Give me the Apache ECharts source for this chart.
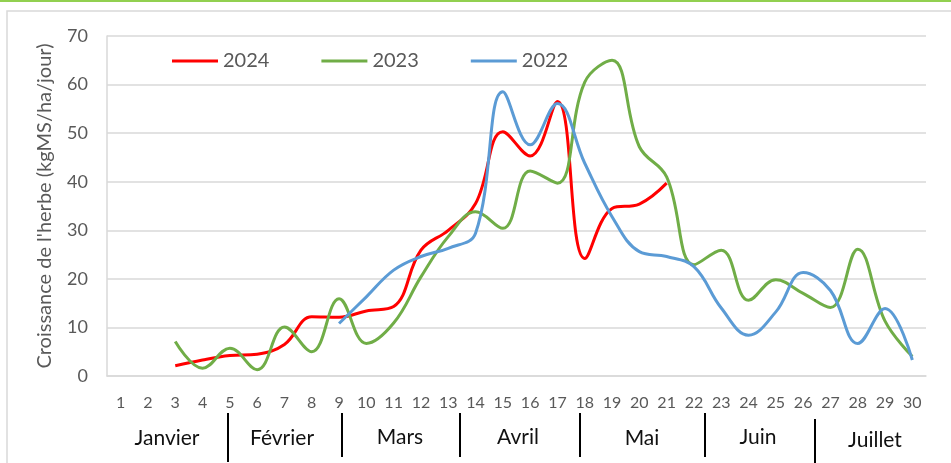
<!DOCTYPE html>
<html>
<head>
<meta charset="utf-8">
<script src="https://cdn.jsdelivr.net/npm/echarts@6/dist/echarts.min.js"></script>
<style>
html,body{margin:0;padding:0;background:#fff;}
#chart{width:951px;height:463px;}
</style>
</head>
<body>
<div id="chart"></div>
<script>
// ---- data ----
var categories = ['1','2','3','4','5','6','7','8','9','10','11','12','13','14','15','16','17','18','19','20','21','22','23','24','25','26','27','28','29','30'];
var seriesNames = ['2024', '2023', '2022'];
var values2024 = [null,null,2.1,3.3,4.2,4.5,6.5,12.2,12.1,13.4,14.3,25.9,30.0,35.5,50.3,45.3,56.5,24.2,34.5,35.4,39.7,null,null,null,null,null,null,null,null,null];
var values2023 = [null,null,7.1,1.6,5.7,1.3,10.1,5.0,15.9,6.7,10.9,20.4,28.7,33.8,30.4,42.2,39.7,60.5,65.0,47.2,41.0,22.9,25.9,15.6,19.8,17.0,14.1,26.1,11.3,4.0];
var values2022 = [null,null,null,null,null,null,null,null,10.8,16.3,21.8,24.6,26.3,29.4,58.5,47.6,56.1,43.8,32.8,25.6,24.6,22.5,14.0,8.4,13.2,21.3,17.6,6.7,13.9,3.3];
var months = ['Janvier','Février','Mars','Avril','Mai','Juin','Juillet'];
var yTitle = "Croissance de l'herbe (kgMS/ha/jour)";

// ---- layout (decoration) ----
var FONT = 'Lato, "Open Sans", sans-serif';
var monthCenters = [167, 282, 400, 518, 642, 758, 875];
var monthY = [438, 438, 437, 437, 438, 437, 440];
var separators = [[228, 413, 462], [342, 413, 457], [460, 413, 457], [580, 413, 457], [705, 413, 457], [815, 419, 463]];

var graphics = [
  {type:'rect', shape:{x:7, y:11, width:960, height:470}, style:{fill:'none', stroke:'#D9D9D9', lineWidth:1.5}, silent:true},
  {type:'rect', shape:{x:0, y:0, width:951, height:2}, style:{fill:'#92D050'}, silent:true}
];
months.forEach(function(m, i){
  graphics.push({type:'text', x:monthCenters[i], y:monthY[i], style:{text:m, fill:'#111', font:'21px ' + FONT, textAlign:'center', textVerticalAlign:'middle'}, silent:true});
});
separators.forEach(function(s){
  graphics.push({type:'line', shape:{x1:s[0], y1:s[1], x2:s[0], y2:s[2]}, style:{stroke:'#000', lineWidth:2}, silent:true});
});

var chart = echarts.init(document.getElementById('chart'), null, {renderer:'canvas'});
function mk(name, data, color){
  return {
    name: name, type: 'line', data: data, smooth: 0.4, symbol: 'none', showSymbol: false,
    connectNulls: false,
    lineStyle: {color: color, width: 3},
    itemStyle: {color: color},
    animation: false
  };
}
chart.setOption({
  animation: false,
  backgroundColor: '#fff',
  textStyle: {fontFamily: FONT},
  grid: {left: 107, right: 25, top: 36, bottom: 87},
  legend: {
    data: seriesNames, left: 167, top: 46, itemWidth: 46, itemHeight: 16, itemGap: 52,
    icon: 'path://M0,7 L46,7 L46,10 L0,10 Z',
    textStyle: {color: '#595959', fontSize: 20, fontFamily: FONT}
  },
  xAxis: {
    type: 'category', data: categories, boundaryGap: true,
    axisLine: {show: true, lineStyle: {color: '#D9D9D9', width: 1.5}},
    axisTick: {show: false},
    axisLabel: {color: '#595959', fontSize: 16, margin: 19, interval: 0, fontFamily: FONT},
    splitLine: {show: false}
  },
  yAxis: {
    type: 'value', min: 0, max: 70, interval: 10,
    name: yTitle, nameLocation: 'middle', nameGap: 52,
    nameTextStyle: {color: '#595959', fontSize: 20, fontFamily: FONT},
    axisLine: {show: true, lineStyle: {color: '#D9D9D9', width: 1.5}},
    axisTick: {show: false},
    axisLabel: {color: '#595959', fontSize: 18, margin: 19, fontFamily: FONT},
    splitLine: {show: true, lineStyle: {color: '#D9D9D9', width: 1.5}}
  },
  graphic: graphics,
  series: [
    mk(seriesNames[0], values2024, '#FF0000'),
    mk(seriesNames[1], values2023, '#70AD47'),
    mk(seriesNames[2], values2022, '#5B9BD5')
  ]
});
</script>
</body>
</html>
